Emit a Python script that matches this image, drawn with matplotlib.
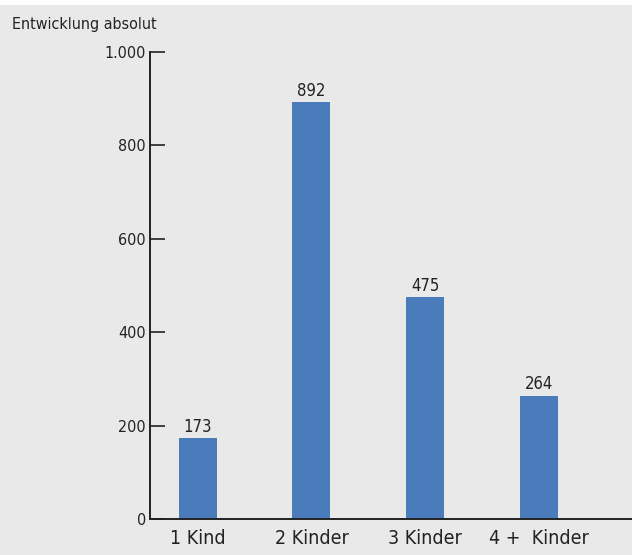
import matplotlib.pyplot as plt
from matplotlib.patches import Rectangle
from matplotlib.ticker import FuncFormatter

categories = ["1 Kind", "2 Kinder", "3 Kinder", "4 +  Kinder"]
values = [173, 892, 475, 264]
yticks = [0, 200, 400, 600, 800, 1000]

plt.rcParams['font.family'] = ['DejaVu Sans']
plt.rcParams['font.stretch'] = 'condensed'
bg = "#e8e9e8"
txt = "#222222"

fig = plt.figure(figsize=(6.35, 5.55), dpi=100, facecolor=bg)
# white strips at top and right edge
fig.patches.append(Rectangle((0, 1 - 5 / 555), 1, 5 / 555, transform=fig.transFigure,
                             facecolor="white", edgecolor="none", zorder=0))
fig.patches.append(Rectangle((1 - 3 / 635, 0), 3 / 635, 1, transform=fig.transFigure,
                             facecolor="white", edgecolor="none", zorder=0))

ax = fig.add_axes([150 / 635, 36 / 555, 482 / 635, 467 / 555])
ax.set_facecolor("none")

x = range(len(categories))
bars = ax.bar(x, values, width=0.335, color="#4a7bbb", zorder=2)
for b, v in zip(bars, values):
    ax.text(b.get_x() + b.get_width() / 2, v + 5, str(v), ha="center", va="bottom",
            fontsize=12, color=txt)

ax.set_xlim(-0.42, 3.82)
ax.set_ylim(0, 1000)
ax.set_yticks(yticks)
ax.yaxis.set_major_formatter(FuncFormatter(lambda v, p: f"{int(v):,}".replace(",", ".")))
ax.set_xticks(list(x))
ax.set_xticklabels(categories, fontsize=14, color=txt)
ax.tick_params(axis="x", length=0, pad=7)
ax.tick_params(axis="y", direction="in", length=11, width=1.2, color=txt,
               labelsize=11.5, labelcolor=txt, pad=3)

for s in ["top", "right"]:
    ax.spines[s].set_visible(False)
for s in ["left", "bottom"]:
    ax.spines[s].set_linewidth(1.4)
    ax.spines[s].set_color(txt)

fig.text(12 / 635, 1 - 25 / 555, "Entwicklung absolut", fontsize=11.5, color=txt,
         ha="left", va="center")

fig.savefig("out.png", dpi=100, facecolor=bg)
